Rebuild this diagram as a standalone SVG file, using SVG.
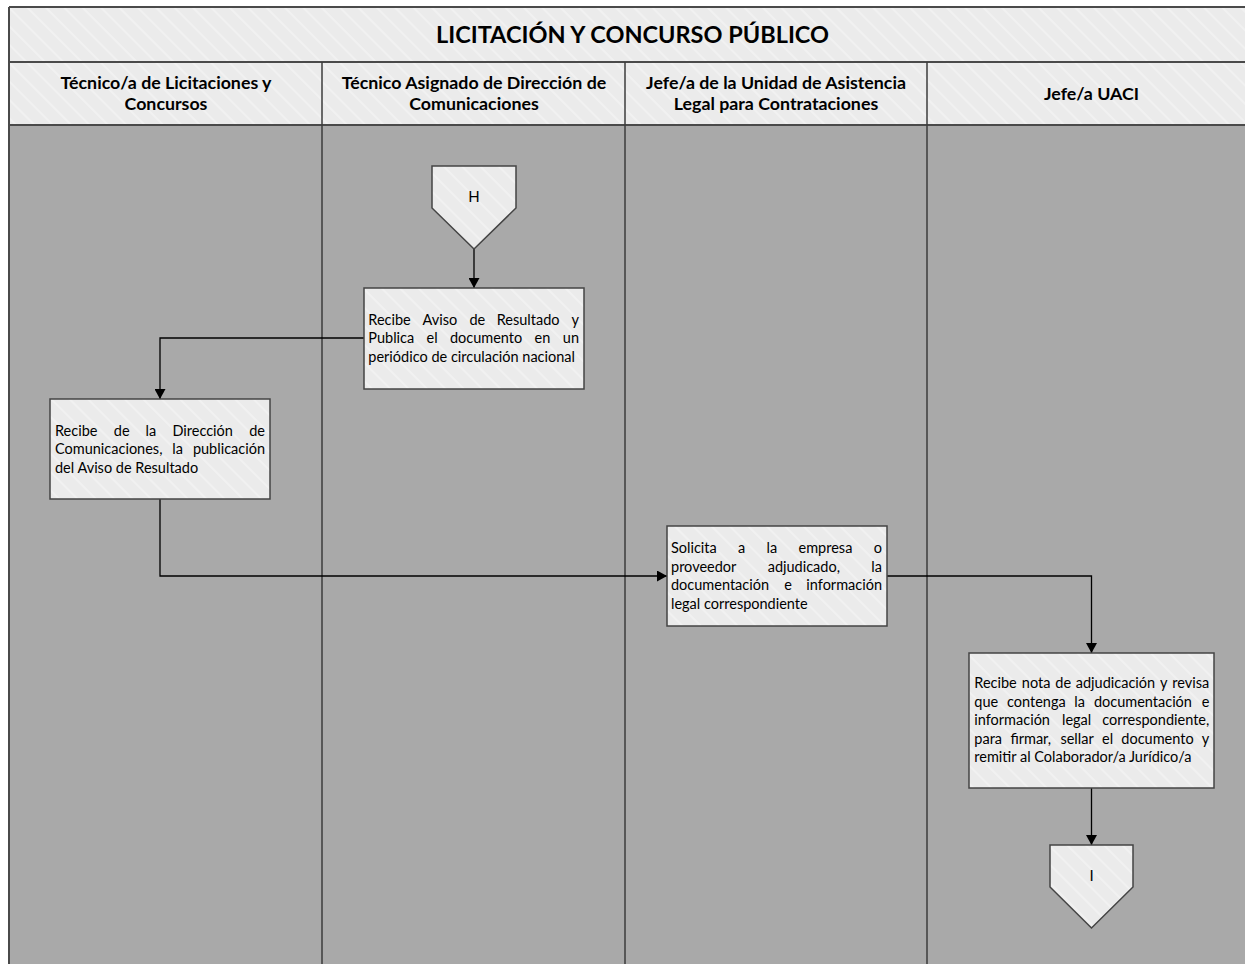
<svg xmlns="http://www.w3.org/2000/svg" width="1245" height="964" viewBox="0 0 1245 964">
<style>
.band{fill:url(#hatch);stroke:none}
.body{fill:#a9a9a9;stroke:none}
.frame{stroke:#4a4a4a;stroke-width:2;fill:none}
.lane{stroke:#3c3c3c;stroke-width:1.5;fill:none}
.node{fill:url(#hatch);stroke:#444;stroke-width:1.5}
.conn{fill:none;stroke:#000;stroke-width:1.3}
.title{font-family:Lato,"Liberation Sans",sans-serif;font-weight:bold;font-size:23.5px;fill:#000;text-anchor:middle}
.hdr{font-family:Lato,"Liberation Sans",sans-serif;font-weight:bold;font-size:17.8px;fill:#000;text-anchor:middle}
.t{font-family:Lato,"Liberation Sans",sans-serif;font-size:14.5px;fill:#000}
.e{font-family:Lato,"Liberation Sans",sans-serif;font-size:14.5px;fill:#000;text-anchor:end}
.lbl{font-family:Lato,"Liberation Sans",sans-serif;font-size:15px;fill:#000;text-anchor:middle}
</style>
<defs>
<pattern id="hatch" patternUnits="userSpaceOnUse" width="13" height="13" patternTransform="rotate(-45)">
<rect x="0" y="0" width="13" height="13" fill="#ebebeb"/>
<line x1="1" y1="0" x2="1" y2="13" stroke="#f5f5f5" stroke-width="1.2"/>
</pattern>
<marker id="arrow" markerUnits="userSpaceOnUse" markerWidth="11" markerHeight="11" refX="10" refY="5.5" orient="auto">
<path d="M0,0 L10,5.5 L0,11 z" fill="#000"/>
</marker>
</defs>
<rect x="0" y="0" width="1245" height="964" fill="#fff"/>
<g id="pool">
<rect class="band" x="9" y="7" width="1250" height="55"/>
<rect class="band" x="9" y="62" width="1250" height="63"/>
<rect class="body" x="9" y="125" width="1250" height="845"/>
<line class="frame" x1="9" y1="7" x2="1259" y2="7"/>
<line class="frame" x1="9" y1="7" x2="9" y2="964"/>
<line class="frame" x1="9" y1="62" x2="1259" y2="62"/>
<line class="frame" x1="9" y1="125" x2="1259" y2="125"/>
<line class="lane" x1="322" y1="62" x2="322" y2="964"/>
<line class="lane" x1="625" y1="62" x2="625" y2="964"/>
<line class="lane" x1="927" y1="62" x2="927" y2="964"/>
<text class="title" x="632.5" y="42.5">LICITACIÓN Y CONCURSO PÚBLICO</text>
<text class="hdr" x="166" y="89">Técnico/a de Licitaciones y</text>
<text class="hdr" x="166" y="110">Concursos</text>
<text class="hdr" x="474" y="89">Técnico Asignado de Dirección de</text>
<text class="hdr" x="474" y="110">Comunicaciones</text>
<text class="hdr" x="776" y="89">Jefe/a de la Unidad de Asistencia</text>
<text class="hdr" x="776" y="110">Legal para Contrataciones</text>
<text class="hdr" x="1091.5" y="100">Jefe/a UACI</text>
</g>
<g id="connectors">
<path class="conn" d="M474,249 L474,288" marker-end="url(#arrow)"/>
<path class="conn" d="M364,338 L160,338 L160,399" marker-end="url(#arrow)"/>
<path class="conn" d="M160,499 L160,576 L667,576" marker-end="url(#arrow)"/>
<path class="conn" d="M887,576 L1091.5,576 L1091.5,653" marker-end="url(#arrow)"/>
<path class="conn" d="M1091.5,788 L1091.5,845" marker-end="url(#arrow)"/>
</g>
<g id="offpage-H">
<polygon class="node" points="432,166 516,166 516,208 474,249 432,208"/>
<text class="lbl" x="474" y="202">H</text>
</g>
<g id="node-publica">
<rect class="node" x="364" y="288" width="220" height="101"/>
<text class="t" y="324.5"><tspan x="368.3">Recibe</tspan><tspan x="422.6">Aviso</tspan><tspan x="469.4">de</tspan><tspan x="496.7">Resultado</tspan></text>
<text class="e" x="579" y="324.5">y</text>
<text class="t" y="343"><tspan x="368.3">Publica</tspan><tspan x="426.6">el</tspan><tspan x="449.9">documento</tspan><tspan x="534.6">en</tspan></text>
<text class="e" x="579" y="343">un</text>
<text class="t" x="368.3" y="361.5">periódico de circulación nacional</text>
</g>
<g id="node-recibe-publicacion">
<rect class="node" x="50" y="399" width="220" height="100"/>
<text class="t" y="435.5"><tspan x="55">Recibe</tspan><tspan x="113.8">de</tspan><tspan x="145.6">la</tspan><tspan x="172.4">Dirección</tspan></text>
<text class="e" x="265" y="435.5">de</text>
<text class="t" y="454"><tspan x="55">Comunicaciones,</tspan><tspan x="172.3">la</tspan></text>
<text class="e" x="265" y="454">publicación</text>
<text class="t" x="55" y="472.5">del Aviso de Resultado</text>
</g>
<g id="node-solicita">
<rect class="node" x="667" y="526" width="220" height="100"/>
<text class="t" y="553"><tspan x="671">Solicita</tspan><tspan x="738">a</tspan><tspan x="766.5">la</tspan><tspan x="798.5">empresa</tspan></text>
<text class="e" x="882" y="553">o</text>
<text class="t" y="571.5"><tspan x="671">proveedor</tspan><tspan x="767.7">adjudicado,</tspan></text>
<text class="e" x="882" y="571.5">la</text>
<text class="t" y="590"><tspan x="671">documentación</tspan><tspan x="784.2">e</tspan></text>
<text class="e" x="882" y="590">información</text>
<text class="t" x="671" y="608.5">legal correspondiente</text>
</g>
<g id="node-revisa">
<rect class="node" x="969" y="653" width="245" height="135"/>
<text class="t" y="688"><tspan x="974.3">Recibe</tspan><tspan x="1021.8">nota</tspan><tspan x="1055.3">de</tspan><tspan x="1075.8">adjudicación</tspan><tspan x="1160">y</tspan></text>
<text class="e" x="1209.3" y="688">revisa</text>
<text class="t" y="706.5"><tspan x="974.3">que</tspan><tspan x="1007">contenga</tspan><tspan x="1074.3">la</tspan><tspan x="1093.9">documentación</tspan></text>
<text class="e" x="1209.3" y="706.5">e</text>
<text class="t" y="725"><tspan x="974.3">información</tspan><tspan x="1062">legal</tspan></text>
<text class="e" x="1209.3" y="725">correspondiente,</text>
<text class="t" y="743.5"><tspan x="974.3">para</tspan><tspan x="1010.4">firmar,</tspan><tspan x="1060.4">sellar</tspan><tspan x="1102">el</tspan><tspan x="1121.3">documento</tspan></text>
<text class="e" x="1209.3" y="743.5">y</text>
<text class="t" x="974.3" y="762">remitir al Colaborador/a Jurídico/a</text>
</g>
<g id="offpage-I">
<polygon class="node" points="1050,845 1133,845 1133,887 1091.5,928 1050,887"/>
<text class="lbl" x="1091.5" y="881">I</text>
</g>
</svg>
